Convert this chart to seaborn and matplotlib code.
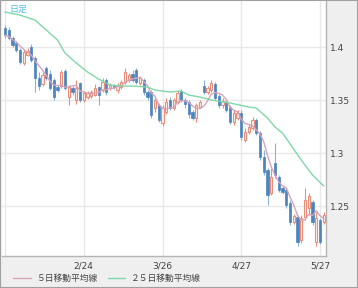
import numpy as np
import pandas as pd
import matplotlib
matplotlib.use("Agg")
import matplotlib.pyplot as plt
import seaborn as sns
from matplotlib.lines import Line2D
from matplotlib.patches import Rectangle

# ---- data ----
opens = [1.4182, 1.4163, 1.4088, 1.4041, 1.3975, 1.3852, 1.3927, 1.4003, 1.3899, 1.3710,
         1.3653, 1.3804, 1.3748, 1.3691, 1.3625, 1.3634, 1.3776, 1.3530, 1.3615, 1.3502,
         1.3663, 1.3502, 1.3530, 1.3540, 1.3549, 1.3625, 1.3597, 1.3691, 1.3615, 1.3644,
         1.3597, 1.3625, 1.3672, 1.3691, 1.3748, 1.3786, 1.3663, 1.3691, 1.3578, 1.3578,
         1.3426, 1.3455, 1.3285, 1.3389, 1.3502, 1.3426, 1.3483, 1.3587, 1.3502, 1.3483,
         1.3389, 1.3332, 1.3436, 1.3634, 1.3578, 1.3597, 1.3653, 1.3540, 1.3455, 1.3483,
         1.3436, 1.3294, 1.3332, 1.3379, 1.3124, 1.3200, 1.3237, 1.3313, 1.3190, 1.2963,
         1.2841, 1.2623, 1.2907, 1.2774, 1.2670, 1.2652, 1.2529, 1.2349, 1.2396, 1.2179,
         1.2396, 1.2481, 1.2538, 1.2160, 1.2368, 1.2349]
highs = [1.4211, 1.4192, 1.4107, 1.4060, 1.3993, 1.3975, 1.3993, 1.4031, 1.3918, 1.3767,
         1.3767, 1.3823, 1.3786, 1.3710, 1.3644, 1.3786, 1.3795, 1.3644, 1.3634, 1.3691,
         1.3672, 1.3587, 1.3587, 1.3597, 1.3653, 1.3634, 1.3710, 1.3710, 1.3663, 1.3653,
         1.3663, 1.3691, 1.3804, 1.3757, 1.3786, 1.3804, 1.3729, 1.3710, 1.3597, 1.3597,
         1.3521, 1.3474, 1.3455, 1.3521, 1.3530, 1.3521, 1.3597, 1.3606, 1.3521, 1.3502,
         1.3408, 1.3474, 1.3502, 1.3691, 1.3634, 1.3691, 1.3672, 1.3559, 1.3521, 1.3502,
         1.3455, 1.3408, 1.3408, 1.3408, 1.3237, 1.3275, 1.3341, 1.3332, 1.3209, 1.3030,
         1.2859, 1.2859, 1.3096, 1.2793, 1.2689, 1.2670, 1.2557, 1.2425, 1.2415, 1.2415,
         1.2670, 1.2623, 1.2557, 1.2444, 1.2387, 1.2444]
lows = [1.4088, 1.4069, 1.4003, 1.3956, 1.3842, 1.3833, 1.3918, 1.3861, 1.3578, 1.3597,
        1.3634, 1.3691, 1.3597, 1.3502, 1.3578, 1.3615, 1.3597, 1.3455, 1.3549, 1.3464,
        1.3483, 1.3483, 1.3511, 1.3521, 1.3540, 1.3455, 1.3578, 1.3549, 1.3597, 1.3606,
        1.3568, 1.3606, 1.3653, 1.3672, 1.3672, 1.3653, 1.3644, 1.3549, 1.3502, 1.3332,
        1.3389, 1.3294, 1.3256, 1.3370, 1.3408, 1.3408, 1.3464, 1.3483, 1.3426, 1.3332,
        1.3313, 1.3294, 1.3426, 1.3559, 1.3559, 1.3578, 1.3502, 1.3426, 1.3426, 1.3389,
        1.3275, 1.3266, 1.3313, 1.3124, 1.3105, 1.3181, 1.3219, 1.3171, 1.2935, 1.2793,
        1.2510, 1.2604, 1.2765, 1.2633, 1.2614, 1.2481, 1.2321, 1.2330, 1.2122, 1.2151,
        1.2368, 1.2425, 1.2321, 1.2122, 1.2141, 1.2330]
closes = [1.4116, 1.4088, 1.4022, 1.3975, 1.3861, 1.3956, 1.3965, 1.3880, 1.3710, 1.3634,
          1.3738, 1.3710, 1.3615, 1.3530, 1.3597, 1.3767, 1.3615, 1.3625, 1.3578, 1.3615,
          1.3502, 1.3568, 1.3568, 1.3578, 1.3615, 1.3549, 1.3672, 1.3578, 1.3644, 1.3625,
          1.3644, 1.3672, 1.3767, 1.3738, 1.3691, 1.3672, 1.3710, 1.3578, 1.3530, 1.3360,
          1.3502, 1.3313, 1.3426, 1.3483, 1.3426, 1.3502, 1.3568, 1.3502, 1.3464, 1.3370,
          1.3332, 1.3455, 1.3483, 1.3578, 1.3615, 1.3663, 1.3521, 1.3455, 1.3493, 1.3408,
          1.3294, 1.3379, 1.3379, 1.3152, 1.3200, 1.3247, 1.3313, 1.3190, 1.2963, 1.2822,
          1.2604, 1.2774, 1.2793, 1.2652, 1.2633, 1.2510, 1.2349, 1.2406, 1.2160, 1.2387,
          1.2557, 1.2595, 1.2349, 1.2387, 1.2160, 1.2415]

# 25-day moving average (candle index, value)
ma25_idx = [0, 4, 8, 11, 14, 16, 19, 22, 25, 28, 31, 34, 38, 40, 44, 47, 49, 52, 55, 60,
            65, 67, 70, 72, 74, 79, 82, 85]
ma25_val = [1.4334, 1.4305, 1.4258, 1.4164, 1.4069, 1.3946, 1.3852, 1.3767, 1.3700, 1.3644,
            1.3634, 1.3634, 1.3625, 1.3597, 1.3578, 1.3587, 1.3549, 1.3530, 1.3502, 1.3474,
            1.3436, 1.3426, 1.3332, 1.3247, 1.3190, 1.2935, 1.2793, 1.2689]

xtick_idx = [21, 42, 63, 84]
xtick_labels = ["2/24", "3/26", "4/27", "5/27"]
ytick_vals = [1.25, 1.3, 1.35, 1.4]
ytick_labels = ["1.25", "1.3", "1.35", "1.4"]
chart_label = "日足"
legend_labels = ["５日移動平均線", "２５日移動平均線"]

# ---- styling ----
sns.set_theme(style="white")
plt.rcParams["font.family"] = ["DejaVu Sans"]
cjk = ["Noto Sans CJK JP", "DejaVu Sans"]

UP_EDGE = "#e98e7a"
UP_FACE = "#fdf1ee"
DOWN = "#4b84be"
DOWN_WICK = "#8ab4dc"
MA5_C = "#d9a3b8"
MA25_C = "#7fd8a8"
BG = "#efefef"
GRID = "#e9e9e9"

df = pd.DataFrame({"open": opens, "high": highs, "low": lows, "close": closes})
df["idx"] = np.arange(len(df))
df["ma5"] = df["close"].rolling(5, min_periods=1).mean()
ma25 = pd.DataFrame({"idx": ma25_idx, "ma25": ma25_val})

fig = plt.figure(figsize=(3.58, 2.88), dpi=100, facecolor=BG)
ax = fig.add_axes([2 / 358, 32 / 288, 324 / 358, 255 / 288])
ax.set_facecolor("white")

# grid
for t in [0] + xtick_idx:
    ax.axvline(t, color=GRID, lw=1.0, zorder=0)
for v in ytick_vals:
    ax.axhline(v, color=GRID, lw=1.0, zorder=0)

# candles
up = df["close"] >= df["open"]
w = 0.62
for is_up, sub in ((True, df[up]), (False, df[~up])):
    wick_c = UP_EDGE if is_up else DOWN_WICK
    ax.vlines(sub["idx"], sub["low"], sub["high"], color=wick_c, lw=0.8, zorder=2)
    bottom = np.minimum(sub["open"], sub["close"])
    height = np.abs(sub["close"] - sub["open"])
    height = np.maximum(height, 0.0004)
    if is_up:
        ax.bar(sub["idx"], height, bottom=bottom, width=w, facecolor=UP_FACE,
               edgecolor=UP_EDGE, linewidth=0.8, zorder=3)
    else:
        ax.bar(sub["idx"], height, bottom=bottom, width=w, facecolor=DOWN,
               edgecolor=DOWN, linewidth=0.5, zorder=3)

sns.lineplot(data=df, x="idx", y="ma5", ax=ax, color=MA5_C, lw=1.0, zorder=4)
sns.lineplot(data=ma25, x="idx", y="ma25", ax=ax, color=MA25_C, lw=1.0, zorder=4)

ax.set_xlim(-0.8, 85.6)
ax.set_ylim(1.2028, 1.4438)
ax.set_xlabel("")
ax.set_ylabel("")

ax.set_xticks(xtick_idx)
ax.set_xticklabels(xtick_labels)
ax.yaxis.tick_right()
ax.set_yticks(ytick_vals)
ax.set_yticklabels(ytick_labels)
ax.tick_params(axis="both", length=0, labelsize=6.5, labelcolor="#444444")
ax.tick_params(axis="y", pad=2.5)
ax.tick_params(axis="x", pad=4)

for s in ["top", "left"]:
    ax.spines[s].set_visible(False)
for s in ["right", "bottom"]:
    ax.spines[s].set_color("#b5b5b5")
    ax.spines[s].set_linewidth(1.0)

ax.text(0.022, 0.985, chart_label, transform=ax.transAxes, ha="left", va="top",
        fontsize=6.5, color="#55bde8", family=cjk)

handles = [Line2D([0], [0], color=MA5_C, lw=1.0), Line2D([0], [0], color=MA25_C, lw=1.0)]
leg = fig.legend(handles, legend_labels, loc="lower left", bbox_to_anchor=(0.015, -0.01),
                 ncol=2, frameon=False, handlelength=2.0, handletextpad=0.6,
                 columnspacing=1.2, prop={"family": cjk, "size": 6.3})
for t in leg.get_texts():
    t.set_color("#444444")

# figure border
fig.patches.append(Rectangle((0, 0), 1, 1, transform=fig.transFigure, fill=False,
                             edgecolor="#a0a0a0", lw=1.5))

fig.savefig("out.png", dpi=100, facecolor=BG)
